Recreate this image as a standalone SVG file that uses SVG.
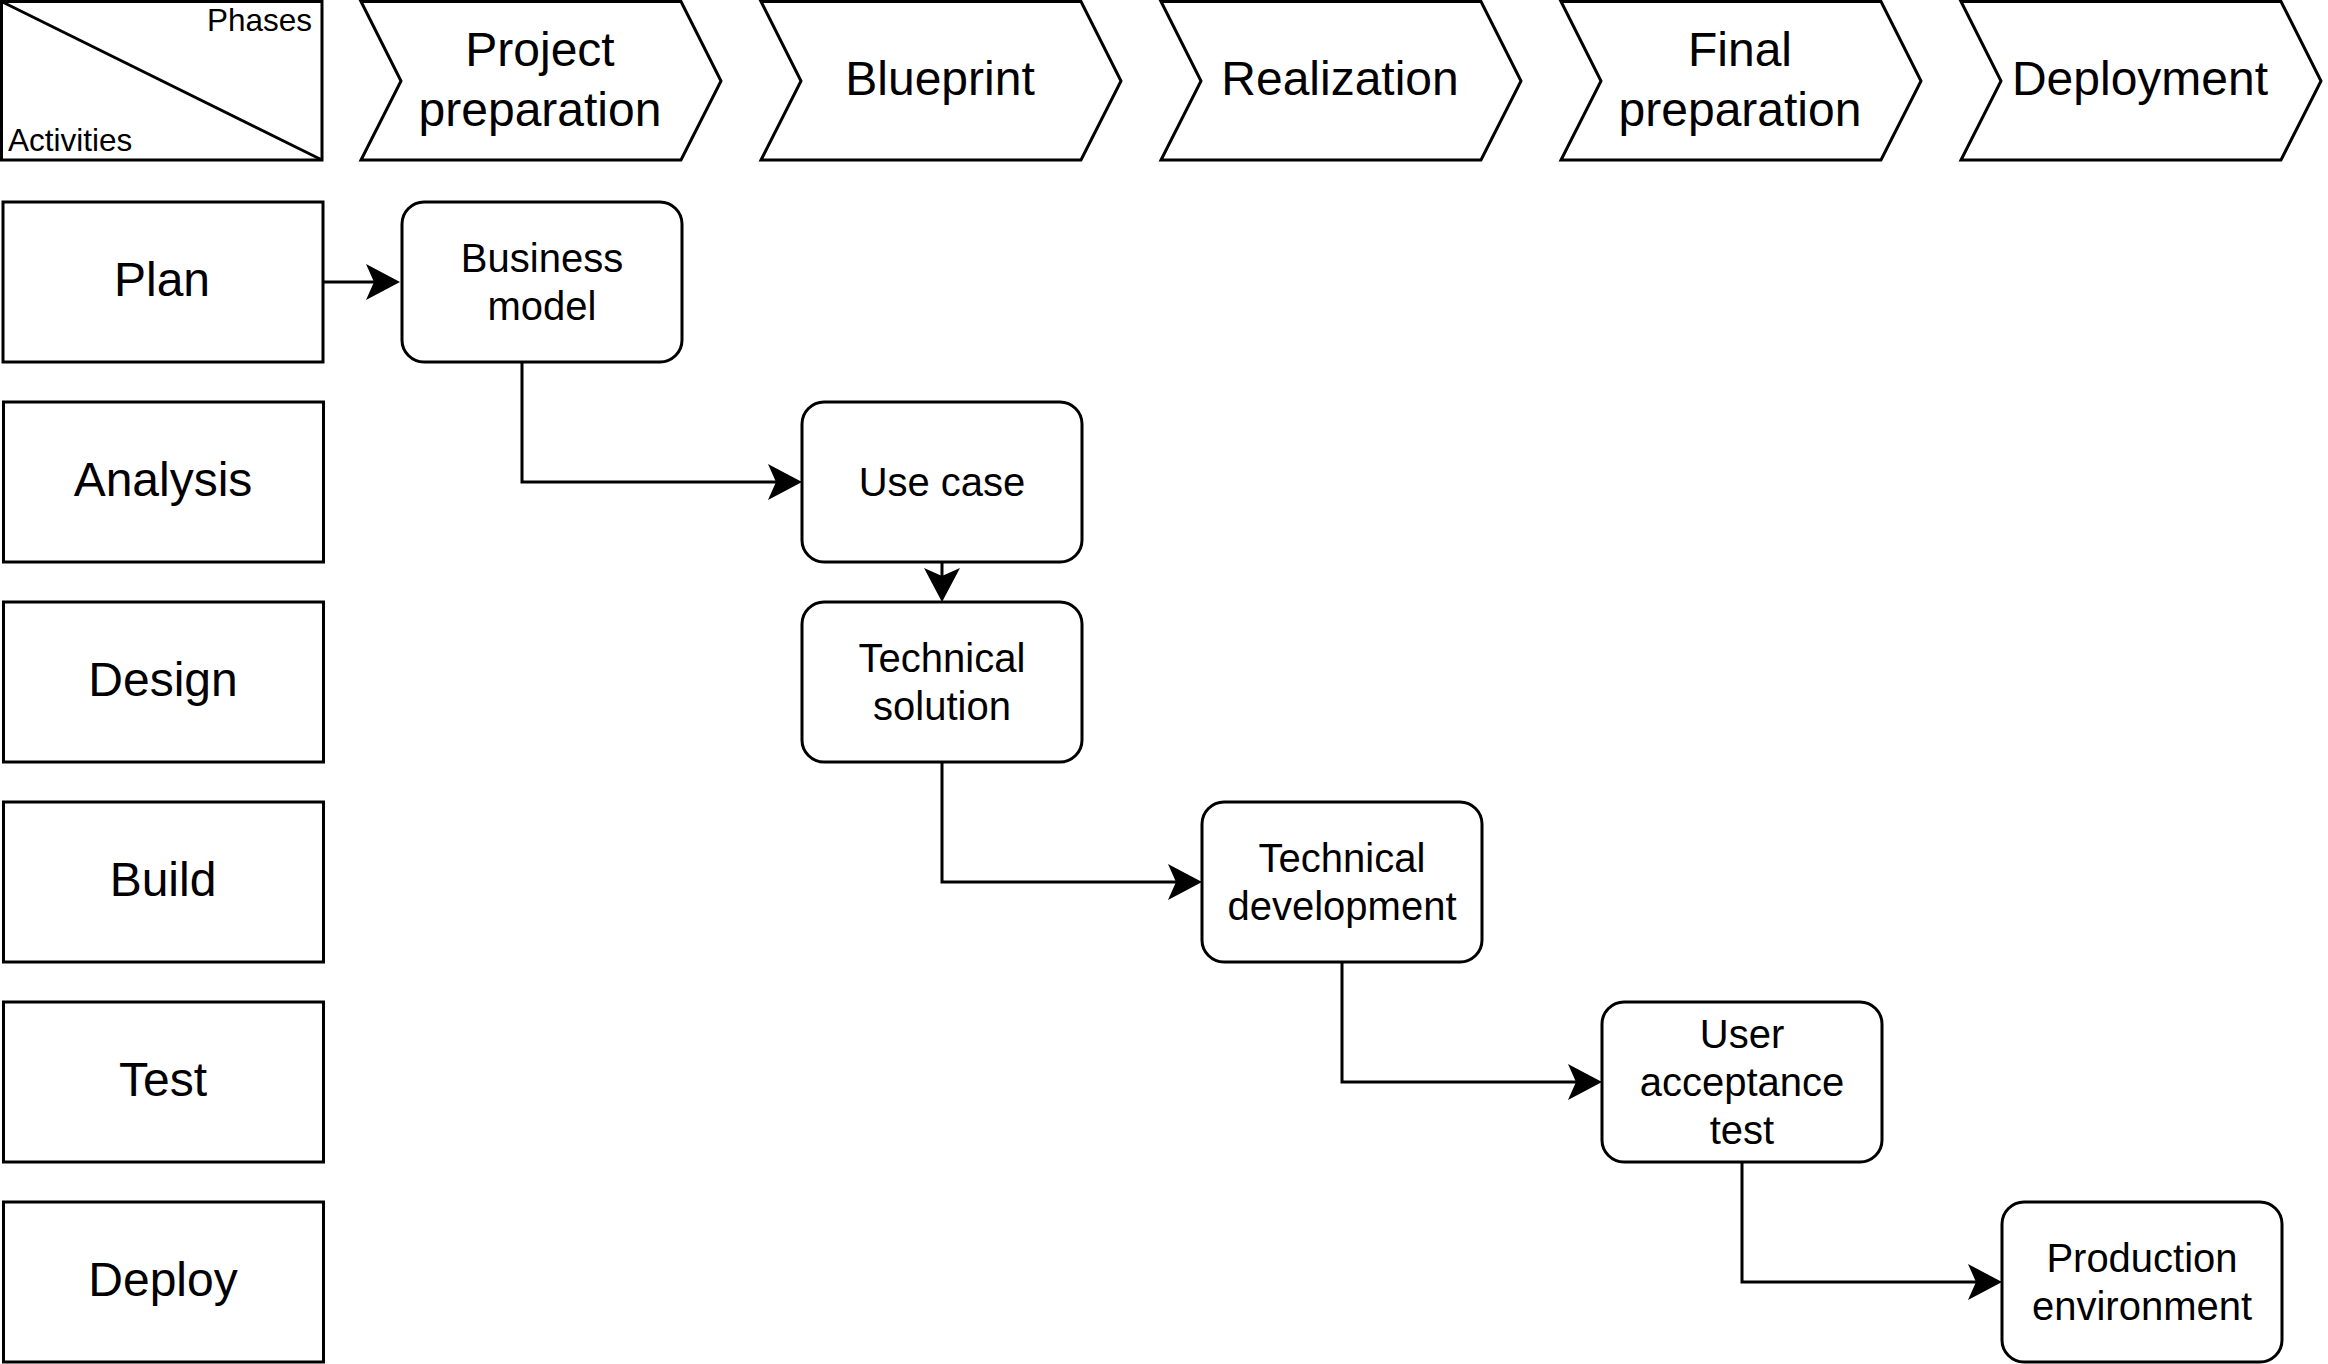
<svg xmlns="http://www.w3.org/2000/svg" width="2328" height="1364" viewBox="0 0 2328 1364">
  <style>
    .shape { fill: #ffffff; stroke: #000000; stroke-width: 3; }
    .conn { fill: none; stroke: #000000; stroke-width: 3; }
    text { font-family: "Liberation Sans", Arial, sans-serif; fill: #000000; text-anchor: middle; }
    .phase { font-size: 48px; }
    .row { font-size: 48px; }
    .node { font-size: 40px; }
    .corner { font-size: 31.5px; }
  </style>
  <defs>
    <marker id="arrow" viewBox="0 0 34 36" refX="8" refY="18" markerWidth="34" markerHeight="36" markerUnits="userSpaceOnUse" orient="auto">
      <path d="M0,0 L34,18 L0,36 L8,18 Z" fill="#000000"/>
    </marker>
  </defs>
  <rect width="2328" height="1364" fill="#ffffff"/>

  <g id="header-corner">
    <rect class="shape" x="1.5" y="1.5" width="320.5" height="158.5"/>
    <line x1="1.5" y1="1.5" x2="322" y2="160" stroke="#000000" stroke-width="3"/>
    <text class="corner" x="312" y="31" style="text-anchor:end">Phases</text>
    <text class="corner" x="8" y="151" style="text-anchor:start">Activities</text>
  </g>

  <g id="phase-project-preparation">
    <polygon class="shape" points="361,1.5 681,1.5 721,81 681,160 361,160 401,81"/>
    <text class="phase" x="540" y="66">Project</text>
    <text class="phase" x="540" y="126">preparation</text>
  </g>
  <g id="phase-blueprint">
    <polygon class="shape" points="761,1.5 1081,1.5 1121,81 1081,160 761,160 801,81"/>
    <text class="phase" x="940" y="95">Blueprint</text>
  </g>
  <g id="phase-realization">
    <polygon class="shape" points="1161,1.5 1481,1.5 1521,81 1481,160 1161,160 1201,81"/>
    <text class="phase" x="1340" y="95">Realization</text>
  </g>
  <g id="phase-final-preparation">
    <polygon class="shape" points="1561,1.5 1881,1.5 1921,81 1881,160 1561,160 1601,81"/>
    <text class="phase" x="1740" y="66">Final</text>
    <text class="phase" x="1740" y="126">preparation</text>
  </g>
  <g id="phase-deployment">
    <polygon class="shape" points="1961,1.5 2281,1.5 2321,81 2281,160 1961,160 2001,81"/>
    <text class="phase" x="2140" y="95">Deployment</text>
  </g>

  <g id="row-plan">
    <rect class="shape" x="3" y="202" width="320" height="160"/>
    <text class="row" x="162" y="295.5">Plan</text>
  </g>
  <g id="row-analysis">
    <rect class="shape" x="3.5" y="402" width="320" height="160"/>
    <text class="row" x="163" y="495.5">Analysis</text>
  </g>
  <g id="row-design">
    <rect class="shape" x="3.5" y="602" width="320" height="160"/>
    <text class="row" x="163" y="695.5">Design</text>
  </g>
  <g id="row-build">
    <rect class="shape" x="3.5" y="802" width="320" height="160"/>
    <text class="row" x="163" y="895.5">Build</text>
  </g>
  <g id="row-test">
    <rect class="shape" x="3.5" y="1002" width="320" height="160"/>
    <text class="row" x="163" y="1095.5">Test</text>
  </g>
  <g id="row-deploy">
    <rect class="shape" x="3.5" y="1202" width="320" height="160"/>
    <text class="row" x="163" y="1295.5">Deploy</text>
  </g>

  <g id="node-business-model">
    <rect class="shape" x="402" y="202" width="280" height="160" rx="22" ry="22"/>
    <text class="node" x="542" y="272">Business</text>
    <text class="node" x="542" y="320">model</text>
  </g>
  <g id="node-use-case">
    <rect class="shape" x="802" y="402" width="280" height="160" rx="22" ry="22"/>
    <text class="node" x="942" y="496">Use case</text>
  </g>
  <g id="node-technical-solution">
    <rect class="shape" x="802" y="602" width="280" height="160" rx="22" ry="22"/>
    <text class="node" x="942" y="672">Technical</text>
    <text class="node" x="942" y="720">solution</text>
  </g>
  <g id="node-technical-development">
    <rect class="shape" x="1202" y="802" width="280" height="160" rx="22" ry="22"/>
    <text class="node" x="1342" y="872">Technical</text>
    <text class="node" x="1342" y="920">development</text>
  </g>
  <g id="node-user-acceptance-test">
    <rect class="shape" x="1602" y="1002" width="280" height="160" rx="22" ry="22"/>
    <text class="node" x="1742" y="1048">User</text>
    <text class="node" x="1742" y="1096">acceptance</text>
    <text class="node" x="1742" y="1144">test</text>
  </g>
  <g id="node-production-environment">
    <rect class="shape" x="2002" y="1202" width="280" height="160" rx="22" ry="22"/>
    <text class="node" x="2142" y="1272">Production</text>
    <text class="node" x="2142" y="1320">environment</text>
  </g>

  <g id="connectors">
    <path class="conn" d="M323,282 H374" marker-end="url(#arrow)"/>
    <path class="conn" d="M522,362 V482 H776" marker-end="url(#arrow)"/>
    <path class="conn" d="M942,562 V576" marker-end="url(#arrow)"/>
    <path class="conn" d="M942,762 V882 H1176" marker-end="url(#arrow)"/>
    <path class="conn" d="M1342,962 V1082 H1576" marker-end="url(#arrow)"/>
    <path class="conn" d="M1742,1162 V1282 H1976" marker-end="url(#arrow)"/>
  </g>
</svg>
